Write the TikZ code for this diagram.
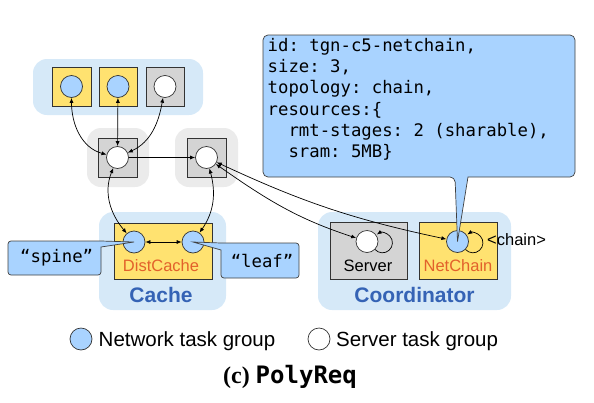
\documentclass[tikz,border=0pt]{standalone}
\usepackage{fontspec}
\setsansfont{Liberation Sans}
\setmonofont{DejaVu Sans Mono}
\newfontfamily\capfont{Liberation Serif}
\usetikzlibrary{arrows.meta}

\definecolor{grpblue}{HTML}{D6E9F8}
\definecolor{swgrey}{HTML}{EBEBEB}
\definecolor{boxyellow}{HTML}{FFE270}
\definecolor{boxgrey}{HTML}{D4D4D4}
\definecolor{netblue}{HTML}{A9D3FF}
\definecolor{txtorange}{HTML}{E2612B}
\definecolor{txtblue}{HTML}{3563B5}

\tikzset{
    netgrp/.style={circle, draw=black!80, line width=0.7pt, fill=netblue, minimum size=22pt, inner sep=0pt},
    srvgrp/.style={circle, draw=black!80, line width=0.7pt, fill=white, minimum size=22pt, inner sep=0pt},
    taskbox/.style={draw=black!80, line width=0.8pt},
    link/.style={<->, >={Latex[length=5pt,width=4pt]}, line width=0.7pt},
    looptip/.style={->, >={Latex[length=5pt,width=4pt]}, line width=0.7pt},
    bubble/.style={draw=black!75, line width=0.7pt, fill=netblue},
    smalltxt/.style={font=\sffamily\fontsize{16.5}{18}\selectfont},
    grptxt/.style={font=\sffamily\bfseries\fontsize{21}{24}\selectfont, text=txtblue},
    monotxt/.style={font=\ttfamily\fontsize{17.3}{21.3}\selectfont},
}

\begin{document}
\begin{tikzpicture}[x=1pt, y=1pt]
    \useasboundingbox (0,0) rectangle (594,-402);

    % group backgrounds
    \fill[grpblue, rounded corners=14pt] (33,-59) rectangle (203,-115);
    \fill[swgrey, rounded corners=14pt] (87,-128) rectangle (149,-187);
    \fill[swgrey, rounded corners=14pt] (175,-128) rectangle (238,-187);
    \fill[grpblue, rounded corners=14pt] (99,-212) rectangle (226,-310);
    \fill[grpblue, rounded corners=14pt] (318,-212) rectangle (511,-310);

    % top row of tasks
    \draw[taskbox, fill=boxyellow] (52,-67) rectangle (91,-106);
    \draw[taskbox, fill=boxyellow] (99,-67) rectangle (137,-106);
    \draw[taskbox, fill=boxgrey] (146,-67) rectangle (184,-106);
    \node[netgrp] (top1) at (71.5,-86.5) {};
    \node[netgrp] (top2) at (118,-86.5) {};
    \node[srvgrp] (top3) at (165,-86.5) {};

    % switches
    \draw[taskbox, fill=boxgrey] (98,-138) rectangle (137,-177);
    \draw[taskbox, fill=boxgrey] (187,-138) rectangle (226,-177);
    \node[srvgrp] (sw1) at (117.5,-157.5) {};
    \node[srvgrp] (sw2) at (206.5,-157.5) {};

    % cache
    \draw[taskbox, fill=boxyellow] (114,-223) rectangle (212,-279);
    \node[netgrp] (spine) at (134,-242) {};
    \node[netgrp] (leaf) at (193,-242) {};
    \node[smalltxt, text=txtorange, anchor=base] (dc) at (161,-271) {DistCache};
    \node[grptxt, anchor=base] (cache) at (161,-302) {Cache};

    % coordinator
    \draw[taskbox, fill=boxgrey] (330,-222) rectangle (407,-279);
    \draw[taskbox, fill=boxyellow] (419,-222) rectangle (497,-279);
    \node[srvgrp] (srv) at (367,-241.5) {};
    \node[netgrp] (nc) at (457.5,-241.5) {};
    \node[smalltxt, anchor=base] (srvtxt) at (368,-271) {Server};
    \node[smalltxt, text=txtorange, anchor=base] (nctxt) at (458,-271) {NetChain};
    \node[smalltxt, anchor=base west, inner sep=0pt] (chain) at (487,-245) {<chain>};
    \node[grptxt, anchor=base] (coord) at (414.5,-302) {Coordinator};

    % connectors
    \draw[link] (top1) to[out=-90, in=165] (sw1);
    \draw[link] (top2) -- (sw1);
    \draw[link] (top3) to[out=-100, in=25] (sw1);
    \draw[link, <-] (sw2) -- (sw1);
    \draw[link] (sw1) to[out=-112, in=130] (spine);
    \draw[link] (sw2) to[out=-75, in=55] (leaf);
    \draw[link] (spine) -- (leaf);
    \draw[link] (sw2) to[out=-35, in=162] (srv);
    \draw[link] (sw2) to[out=-25, in=168] (nc);
    \draw[looptip] ([shift={(8,-8)}]srv.center) arc[start angle=-138, end angle=124, radius=10];
    \draw[looptip] ([shift={(8,-8)}]nc.center) arc[start angle=-138, end angle=124, radius=10];

    % callouts
    \draw[bubble] (101,-247) [rounded corners=3pt] -- (101,-275) -- (8,-275) -- (8,-241) -- (101,-241) [sharp corners] -- (spine.center) -- cycle;
    \node[monotxt, anchor=base] (spinetxt) at (56.7,-262.7) {“spine”};
    \draw[bubble] (221,-250) [rounded corners=3pt] -- (221,-278) -- (299,-278) -- (299,-243) -- (221,-243) [sharp corners] -- (leaf.center) -- cycle;
    \node[monotxt, anchor=base] (leaftxt) at (262,-267.3) {“leaf”};
    \draw[bubble] (468,-177) [rounded corners=5pt] -- (575,-177) -- (575,-35) -- (263,-35) -- (263,-177) -- (455,-177) [sharp corners] -- (nc.center) -- cycle;
    \node[monotxt, anchor=north west, align=left, inner sep=0pt] (spec) at (267.5,-38) {id: tgn-c5-netchain,\\size: 3,\\topology: chain,\\resources:\{\\\ \ rmt-stages: 2 (sharable),\\\ \ sram: 5MB\}};

    % legend
    \node[netgrp] (lgnet) at (81,-339) {};
    \node[font=\sffamily\fontsize{20.5}{24}\selectfont, anchor=base west, inner sep=0pt] (lgnettxt) at (98.5,-346) {Network task group};
    \node[srvgrp] (lgsrv) at (319,-339) {};
    \node[font=\sffamily\fontsize{20.5}{24}\selectfont, anchor=base west, inner sep=0pt] (lgsrvtxt) at (336,-346) {Server task group};

    \node[anchor=base] (caption) at (290,-383) {\capfont\bfseries\fontsize{24}{28}\selectfont (c) {\ttfamily\bfseries\fontsize{24}{28}\selectfont PolyReq}};
\end{tikzpicture}
\end{document}
